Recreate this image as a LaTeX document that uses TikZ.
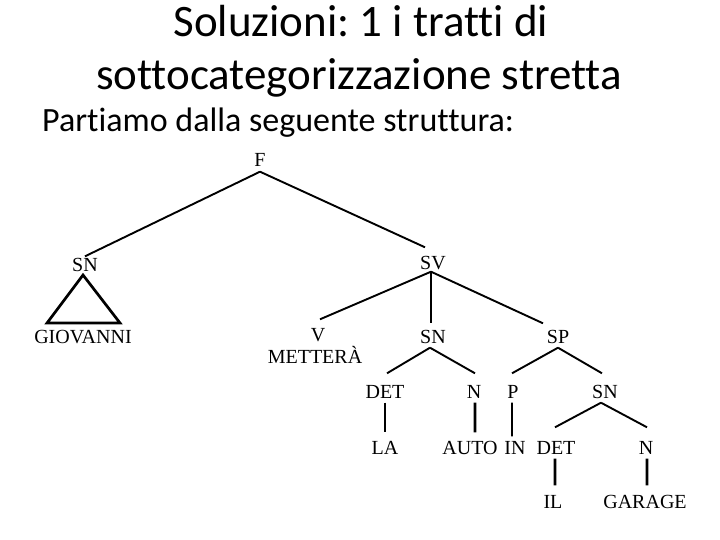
\documentclass[tikz,border=0pt]{standalone}
\usepackage{fontspec}
\setmainfont{Liberation Serif}
\newfontfamily\titlefont[Ligatures=NoCommon]{Carlito}
\frenchspacing
\begin{document}
\begin{tikzpicture}[x=1bp,y=-1bp,
  lbl/.style={font=\fontsize{20bp}{22bp}\selectfont, inner sep=0pt, text height=13bp, text depth=0pt},
  edge/.style={line width=1.9bp},
  tri/.style={line width=2.7bp, line join=miter}]
\useasboundingbox[fill=white] (0,0) rectangle (720,540);
% titles
\node[font=\titlefont\fontsize{45bp}{52bp}\selectfont, anchor=base] (t1) at (361,37) {Soluzioni: 1 i tratti di};
\node[font=\titlefont\fontsize{45bp}{52bp}\selectfont, anchor=base] (t2) at (359,90) {sottocategorizzazione stretta};
\node[font=\titlefont\fontsize{34bp}{40bp}\selectfont, anchor=base west, inner sep=0pt] (t3) at (42,132) {Partiamo dalla seguente struttura:};
% tree nodes
\node[lbl] (F) at (260,160) {F};
\node[lbl] (SNa) at (85,265) {SN};
\node[lbl] (GIO) at (83,337) {GIOVANNI};
\node[lbl] (SV) at (433,263) {SV};
\node[lbl] (V) at (318,335) {V};
\node[lbl] (MET) at (315,357) {METTERÀ};
\node[lbl] (SNb) at (433,337) {SN};
\node[lbl] (SP) at (558,337) {SP};
\node[lbl] (DETa) at (385,392) {DET};
\node[lbl] (Na) at (474,392) {N};
\node[lbl] (P) at (513,392) {P};
\node[lbl] (SNc) at (605,392) {SN};
\node[lbl] (LA) at (385,448) {LA};
\node[lbl] (AUTO) at (470,448) {AUTO};
\node[lbl] (IN) at (515,448) {IN};
\node[lbl] (DETb) at (556,448) {DET};
\node[lbl] (Nb) at (646,448) {N};
\node[lbl] (IL) at (553,502) {IL};
\node[lbl] (GAR) at (645,502) {GARAGE};
% triangle coordinates
\coordinate (ta) at (83,275);
\coordinate (tl) at (47,323);
\coordinate (tr) at (120,323);
% connectors
\draw[edge] ([yshift=-5bp]F.south) -- ([yshift=2bp]SNa.north);
\draw[edge] ([yshift=-5bp]F.south) -- ([xshift=-8bp,yshift=9bp]SV.north);
\draw[tri] (ta) -- (tl) -- (tr) -- cycle;
\draw[edge] ([xshift=-2bp,yshift=-2bp]SV.south) -- ([xshift=2bp,yshift=9bp]V.north);
\draw[edge] ([xshift=-2bp,yshift=-2bp]SV.south) -- ([xshift=-2bp,yshift=7bp]SNb.north);
\draw[edge] ([xshift=-2bp,yshift=-2bp]SV.south) -- ([xshift=-15bp,yshift=7bp]SP.north);
\draw[edge] ([xshift=-3bp,yshift=-4bp]SNb.south) -- ([xshift=2bp,yshift=12bp]DETa.north);
\draw[edge] ([xshift=-3bp,yshift=-4bp]SNb.south) -- ([xshift=1bp,yshift=12bp]Na.north);
\draw[edge] ([yshift=-4bp]SP.south) -- ([xshift=-1bp,yshift=12bp]P.north);
\draw[edge] ([yshift=-4bp]SP.south) -- ([xshift=-3bp,yshift=12bp]SNc.north);
\draw[edge] ([yshift=-4bp]DETa.south) -- ([yshift=9bp]LA.north);
\draw[edge, line width=2.7bp] ([xshift=1bp,yshift=-4bp]Na.south) -- ([xshift=5bp,yshift=9bp]AUTO.north);
\draw[edge] ([xshift=-1bp,yshift=-4bp]P.south) -- ([xshift=-3bp,yshift=5bp]IN.north);
\draw[edge] ([xshift=-4bp,yshift=-4bp]SNc.south) -- ([xshift=-1bp,yshift=14bp]DETb.north);
\draw[edge] ([xshift=-4bp,yshift=-4bp]SNc.south) -- ([xshift=1bp,yshift=14bp]Nb.north);
\draw[edge, line width=2.7bp] ([xshift=-1bp,yshift=-4bp]DETb.south) -- ([xshift=2bp,yshift=10bp]IL.north);
\draw[edge, line width=2.7bp] ([xshift=1bp,yshift=-4bp]Nb.south) -- ([xshift=2bp,yshift=10bp]GAR.north);
\end{tikzpicture}
\end{document}
